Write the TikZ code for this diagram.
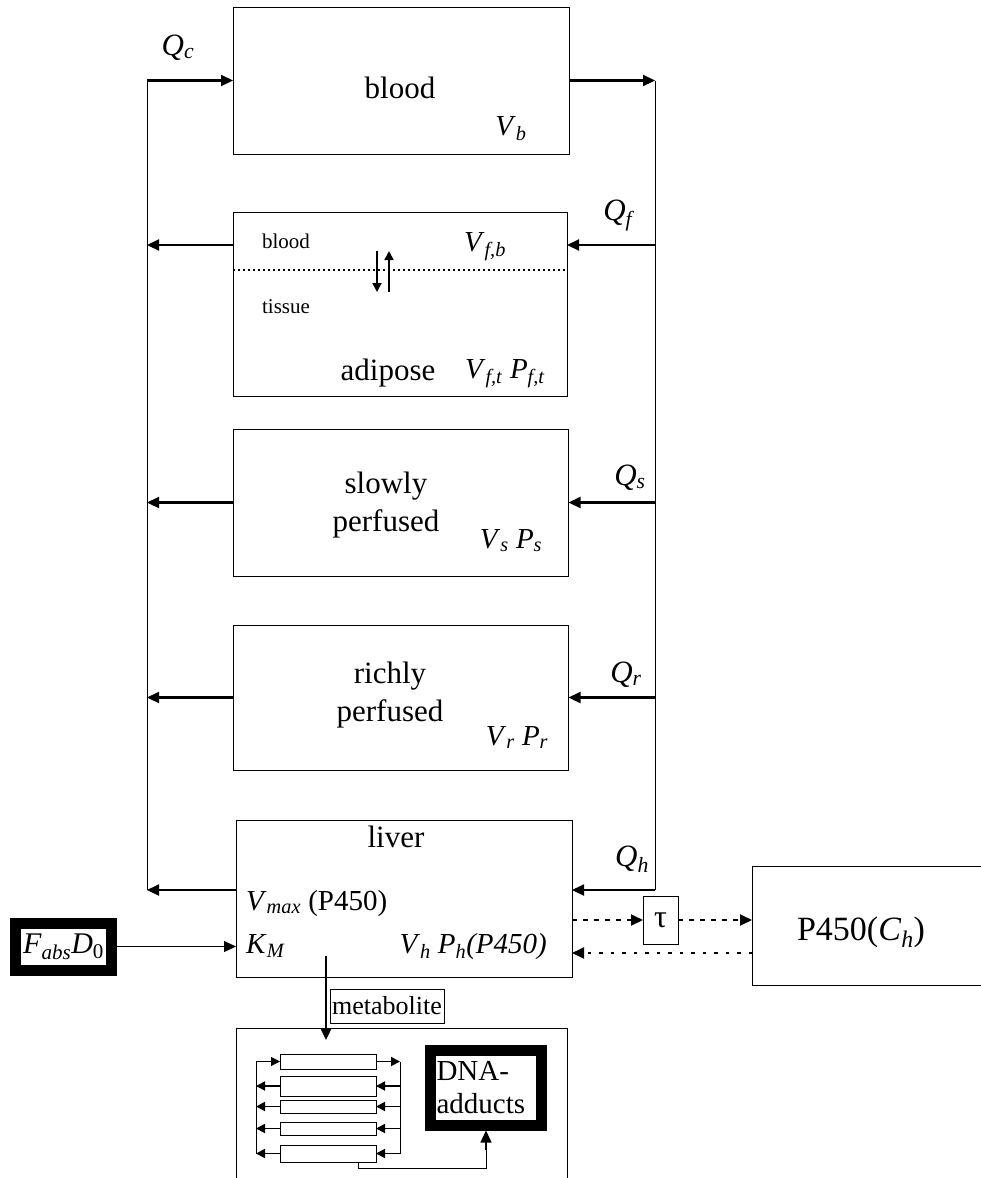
\documentclass[tikz,border=0pt]{standalone}
\usepackage{fontspec}
\setmainfont{Liberation Serif}
\usetikzlibrary{arrows.meta,positioning,calc}
\newcommand\sbs[2]{\textit{#1}\textsubscript{\textit{#2}}}

\begin{document}
\begin{tikzpicture}[x=1pt,y=-1pt,
  comp/.style={draw,line width=1pt,inner sep=0pt,outer sep=0pt},
  heavy/.style={draw,line width=11pt,inner sep=0pt,outer sep=5.5pt},
  lbl/.style={inner sep=0pt,anchor=base,align=center,font=\fontsize{31}{38}\selectfont},
  parm/.style={inner sep=0pt,anchor=base,font=\fontsize{29}{34}\selectfont},
  sublbl/.style={inner sep=0pt,anchor=base,font=\fontsize{21}{25}\selectfont},
  wire/.style={line width=1pt},
  ar/.style={-{Triangle[length=12pt,width=11pt]},line width=2.2pt},
  sm/.style={-{Triangle[length=9pt,width=9pt]},line width=1.8pt},
  dashar/.style={-{Triangle[length=12pt,width=11pt]},line width=2pt,dash pattern=on 5pt off 6pt},
  dotar/.style={-{Triangle[length=12pt,width=11pt]},line width=2pt,dash pattern=on 3.5pt off 8pt}]

\fill[white] (0,0) rectangle (981,1178);
\useasboundingbox (0,0) rectangle (981,1178);

% compartments
\node[comp,minimum width=336pt,minimum height=147pt] (blood) at (401,80.5) {};
\node[comp,minimum width=334pt,minimum height=184pt] (adipose) at (400,304) {};
\node[comp,minimum width=335pt,minimum height=147pt] (slowly) at (401,502.5) {};
\node[comp,minimum width=335pt,minimum height=145pt] (richly) at (401,697.5) {};
\node[comp,minimum width=336pt,minimum height=157pt] (liver) at (404,898.5) {};
\node[comp,minimum width=240pt,minimum height=119pt] (p450) at (872,925.5) {};
\node[comp,minimum width=35pt,minimum height=48pt,font=\fontsize{32}{36}\selectfont] (tau) at (660.5,920) {τ};
\node[heavy,minimum width=96pt,minimum height=47pt,font=\fontsize{30}{36}\selectfont] (fabs) at (63.5,946.5)
  {\sbs{F}{abs}\textit{D}\textsubscript{0}};
\node[comp,minimum width=114pt,minimum height=34pt,font=\fontsize{26}{30}\selectfont] (metab) at (387,1006) {metabolite};
\node[comp,minimum width=331pt,minimum height=165pt] (tract) at (401.5,1110.5) {};
\node[heavy,minimum width=111pt,minimum height=75pt,text width=99pt,align=left,
      font=\fontsize{29}{33}\selectfont] (dna) at (486,1087.5) {DNA-\\adducts};
\foreach \n/\y/\h in {1/1061.5/15,2/1086/20,3/1106.5/13,4/1128.5/13,5/1153.5/17}
  \node[comp,minimum width=96pt,minimum height=\h pt] (r\n) at (328,\y) {};

% texts
\node[lbl] (qc) at (178,55) {\sbs{Q}{c}};
\node[lbl] (tblood) at (400,98) {blood};
\node[parm] (vb) at (511,135) {\sbs{V}{b}};
\node[lbl] (qf) at (619,220) {\sbs{Q}{f}};
\node[sublbl] (sblood) at (286,248) {blood};
\node[parm] (vfb) at (485,251) {\sbs{V}{f,b}};
\node[sublbl] (stissue) at (286,313) {tissue};
\node[lbl] (tadipose) at (388,380) {adipose};
\node[parm] (vft) at (505,378) {\sbs{V}{f,t}\ \sbs{P}{f,t}};
\node[lbl] (qs) at (630,485) {\sbs{Q}{s}};
\node[lbl] (tslowly) at (386,531) {slowly\\perfused};
\node[parm] (vs) at (511,548) {\sbs{V}{s}\ \sbs{P}{s}};
\node[lbl] (qr) at (626,682) {\sbs{Q}{r}};
\node[lbl] (trichly) at (390,721) {richly\\perfused};
\node[parm] (vr) at (517,745) {\sbs{V}{r}\ \sbs{P}{r}};
\node[lbl] (tliver) at (396,847) {liver};
\node[lbl] (qh) at (632,866) {\sbs{Q}{h}};
\node[parm,anchor=base west] (vmax) at (246,910) {\sbs{V}{max} (P450)};
\node[parm,anchor=base west] (km) at (246,953) {\sbs{K}{M}};
\node[parm,anchor=base east] (vh) at (547,953) {\sbs{V}{h}\ \sbs{P}{h}\textit{(P450)}};
\node[lbl,font=\fontsize{34}{38}\selectfont] (tp450) at (861,940) {P450(\sbs{C}{h})};

% circulation
\coordinate (ltop) at (147,80.5);
\coordinate (lbot) at (147,890);
\coordinate (rtop) at (655,80.5);
\coordinate (rbot) at (655,890);
\coordinate (fy) at (655,245);
\draw[wire] (lbot) -- (ltop);
\draw[ar] (ltop) -- (blood.west);
\draw[ar] (blood.east) -- (rtop);
\draw[wire] (rtop) -- (rbot);
\draw[ar] (fy) -- (fy -| adipose.east);
\draw[ar] (fy -| adipose.west) -- (fy -| ltop);
\draw[ar] (slowly.east -| rtop) -- (slowly.east);
\draw[ar] (slowly.west) -- (slowly.west -| ltop);
\draw[ar] (richly.east -| rtop) -- (richly.east);
\draw[ar] (richly.west) -- (richly.west -| ltop);
\draw[ar] (rbot) -- (rbot -| liver.east);
\draw[ar] (rbot -| liver.west) -- (lbot);

% adipose exchange
\draw[dash pattern=on 2pt off 3pt,line width=1.5pt] (adipose.west |- 0,270) -- (adipose.east |- 0,270);
\draw[sm] (377,251) -- (377,292);
\draw[sm] (389,292) -- (389,251);

% dose and P450
\coordinate (back) at (752,953);
\draw[ar,line width=1.2pt] (fabs.east) -- (fabs.east -| liver.west);
\draw[dashar] (liver.east |- tau) -- (tau.west);
\draw[dashar] (tau.east) -- (tau -| p450.west);
\draw[dotar] (back -| p450.west) -- (back -| liver.east);

% metabolite
\coordinate (mstart) at (326,956);
\coordinate (mtip) at (326,1040);
\coordinate (lx) at (256,0);
\coordinate (rx) at (400,0);
\coordinate (tap) at (358,1168);
\draw[ar] (mstart) -- (mtip);
\draw[wire] (r1.west -| lx) -- (r5.west -| lx);
\draw[wire] (r1.east -| rx) -- (r5.east -| rx);
\draw[sm,line width=1pt] (r1.west -| lx) -- (r1.west);
\draw[sm] (r1.east) -- (r1.east -| rx);
\foreach \n in {2,...,5} {
  \draw[sm] (r\n.east -| rx) -- (r\n.east);
  \draw[sm] (r\n.west) -- (r\n.west -| lx);
}
\draw[wire] (r5.south -| tap) -- (tap) -| (dna.south |- 0,1150);
\draw[ar,line width=1.5pt] (dna.south |- 0,1150) -- (dna.south);
\end{tikzpicture}
\end{document}
